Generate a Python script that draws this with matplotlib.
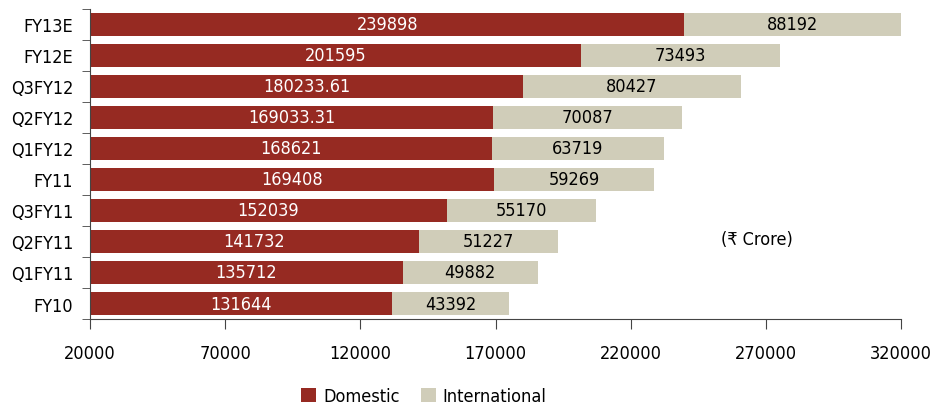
import matplotlib.pyplot as plt
import numpy as np

categories = ["FY10", "Q1FY11", "Q2FY11", "Q3FY11", "FY11",
              "Q1FY12", "Q2FY12", "Q3FY12", "FY12E", "FY13E"]
domestic = [131644, 135712, 141732, 152039, 169408,
            168621, 169033.31, 180233.61, 201595, 239898]
international = [43392, 49882, 51227, 55170, 59269,
                 63719, 70087, 80427, 73493, 88192]
dom_labels = ["131644", "135712", "141732", "152039", "169408",
              "168621", "169033.31", "180233.61", "201595", "239898"]
int_labels = [str(v) for v in international]

plt.rcParams['font.family'] = ['DejaVu Sans']
plt.rcParams['font.stretch'] = 'condensed'

DOM_COLOR = '#962a22'
INT_COLOR = '#d0cdb9'
XMIN, XMAX = 20000, 320000

fig = plt.figure(figsize=(9.47, 4.1), dpi=100)
ax = fig.add_axes([90 / 947, 1 - 320 / 410, 811 / 947, 310 / 410])

y = np.arange(len(categories))
h = 0.74
ax.barh(y, domestic, height=h, color=DOM_COLOR, label="Domestic")
ax.barh(y, international, left=domestic, height=h, color=INT_COLOR, label="International")

fs = 13
for i in range(len(categories)):
    d = domestic[i]
    tot = d + international[i]
    ax.text((XMIN + d) / 2, y[i], dom_labels[i], ha='center', va='center',
            color='white', fontsize=fs)
    ax.text((d + min(tot, XMAX)) / 2, y[i], int_labels[i], ha='center', va='center',
            color='black', fontsize=fs)

ax.set_xlim(XMIN, XMAX)
ax.set_ylim(-0.5, len(categories) - 0.5)
ax.set_xticks(np.arange(20000, 320001, 50000))
ax.set_xticklabels([str(v) for v in range(20000, 320001, 50000)], fontsize=fs)
ax.set_yticks(y)
ax.set_yticklabels(categories, fontsize=fs)
ax.set_yticks(np.arange(-0.5, len(categories)), minor=True)
ax.tick_params(axis='y', which='major', length=0, pad=12)
ax.tick_params(axis='y', which='minor', length=6, color='#444444')
ax.tick_params(axis='x', length=7, color='#444444', pad=11)

for s in ['top', 'right']:
    ax.spines[s].set_visible(False)
for s in ['left', 'bottom']:
    ax.spines[s].set_color('#444444')

ax.text(0.822, 0.258, "(₹ Crore)", transform=ax.transAxes, ha='center',
        va='center', fontsize=fs)

fig.legend(loc='center', bbox_to_anchor=(424 / 947, 1 - 397 / 410), ncol=2,
           frameon=False, fontsize=fs, handlelength=0.8, handleheight=0.8,
           handletextpad=0.4, columnspacing=1.2)

fig.savefig("out.png", dpi=100)
